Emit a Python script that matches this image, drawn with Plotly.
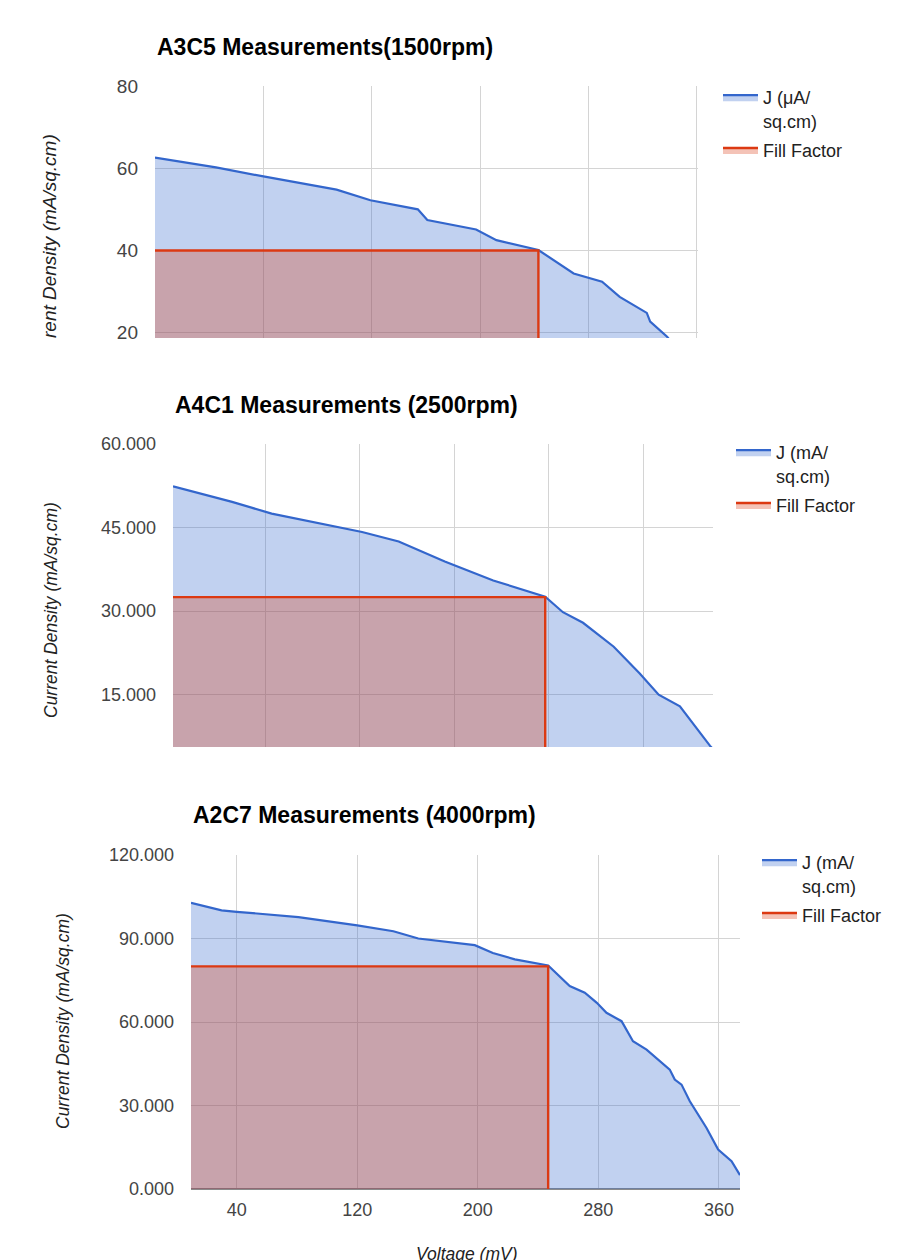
import plotly.graph_objects as go

# ---------------- data ----------------
# Panel 1: A3C5 (1500rpm)
V1 = [0, 45, 80, 134, 159, 194, 201, 237, 252, 283, 309, 330, 343, 363, 365.5, 378, 383]
J1 = [62.6, 60.2, 58.0, 54.8, 52.2, 50.0, 47.4, 45.1, 42.5, 40.1, 34.4, 32.4, 28.7, 24.8, 22.7, 19.0, 17.0]
VMP1, JMP1 = 283, 40.0

# Panel 2: A4C1 (2500rpm)
V2 = [2, 52, 85.5, 162, 193, 232, 273, 317, 332, 349, 375, 397, 413, 431, 456.5, 460]
J2 = [52.4, 49.6, 47.5, 44.2, 42.5, 38.9, 35.5, 32.6, 29.8, 27.9, 23.6, 18.8, 15.0, 12.9, 5.8, 5.0]
VMP2, JMP2 = 317, 32.5

# Panel 3: A2C7 (4000rpm)
V3 = [9.7, 30, 40, 81, 120, 144, 160.5, 191.4, 198, 210, 224.6, 246.7, 261, 271, 279, 285.4,
      295.4, 303, 312, 327.4, 330.7, 335.2, 340.7, 351.8, 359.5, 368.4, 374]
J3 = [102.8, 100.1, 99.6, 97.7, 94.7, 92.6, 90.0, 88.2, 87.6, 84.8, 82.5, 80.3, 72.9, 70.5, 66.9, 63.3,
      60.3, 53.1, 50.1, 42.9, 39.3, 37.5, 31.5, 21.9, 14.2, 10.0, 5.0]
VMP3, JMP3 = 246.7, 80.0

TITLES = ["A3C5 Measurements(1500rpm)", "A4C1 Measurements (2500rpm)", "A2C7 Measurements (4000rpm)"]
J_NAMES = ["J (μA/<br>sq.cm)", "J (mA/<br>sq.cm)", "J (mA/<br>sq.cm)"]
FF_NAME = "Fill Factor"
Y_TITLE = "Current Density (mA/sq.cm)"
Y_TITLE_CLIPPED = "rent Density (mA/sq.cm)"
X_TITLE = "Voltage (mV)"
X_TICKS = [40, 120, 200, 280, 360]

# ---------------- layout geometry (pixels) ----------------
W, H = 898, 1260
BLUE = "#3366cc"
RED = "#dc3912"
GRID = "#d4d4d4"
FONT = "Liberation Sans, Arial, sans-serif"

def px_x(p):
    return p / W

def px_y(p):
    return 1 - p / H

panels = [
    dict(V=V1, J=J1, vmp=VMP1, jmp=JMP1, xdom=(155, 698), ydom=(86, 338), xr=[0, 400.8], xt0=0,
         yr=[18.7, 80], dy=20, yfmt="d", title_xy=(155, 47), leg=(718, 79), tsize=19),
    dict(V=V2, J=J2, vmp=VMP2, jmp=JMP2, xdom=(173, 713), ydom=(444, 747), xr=[2, 459], xt0=0,
         yr=[5.6, 60], dy=15, yfmt=".3f", title_xy=(173, 405), leg=(731, 434), tsize=18),
    dict(V=V3, J=J3, vmp=VMP3, jmp=JMP3, xdom=(191, 740), ydom=(855, 1189), xr=[9.7, 374], xt0=40,
         yr=[0, 120], dy=30, yfmt=".3f", title_xy=(191, 815), leg=(757, 844), tsize=18),
]

fig = go.Figure()
layout = dict(width=W, height=H, margin=dict(l=0, r=0, t=0, b=0, pad=0, autoexpand=False),
              paper_bgcolor="white", plot_bgcolor="white",
              font=dict(family=FONT, color="#222"), annotations=[])

for i, p in enumerate(panels):
    k = "" if i == 0 else str(i + 1)
    xa, ya = "x" + k, "y" + k
    leg = "legend" + k
    fig.add_trace(go.Scatter(
        x=p["V"], y=p["J"], mode="lines", name=J_NAMES[i],
        line=dict(color=BLUE, width=2.2), fill="tozeroy", fillcolor="rgba(51,102,204,0.3)",
        xaxis=xa, yaxis=ya, legend=leg, legendgroup=f"j{i}", hoverinfo="skip"))
    fig.add_trace(go.Scatter(
        x=[p["V"][0], p["vmp"], p["vmp"]], y=[p["jmp"], p["jmp"], 0], mode="lines", name=FF_NAME,
        line=dict(color=RED, width=2.4), fill="tozeroy", fillcolor="rgba(220,57,18,0.3)",
        xaxis=xa, yaxis=ya, legend=leg, legendgroup=f"ff{i}", hoverinfo="skip"))

    last = i == 2
    layout["xaxis" + k] = dict(
        domain=[px_x(p["xdom"][0]), px_x(p["xdom"][1])], range=p["xr"], anchor=ya,
        tickmode="array" if last else "linear",
        tickvals=X_TICKS if last else None,
        tick0=p["xt0"], dtick=80,
        showticklabels=last, showgrid=True, gridcolor=GRID, gridwidth=1.2,
        zeroline=False, showline=False, ticks="", automargin=False,
        tickfont=dict(size=18, color="#444"), ticklabelstandoff=8, fixedrange=True)
    layout["yaxis" + k] = dict(
        domain=[px_y(p["ydom"][1]), px_y(p["ydom"][0])], range=p["yr"], anchor=xa,
        tick0=0, dtick=p["dy"], tickformat=p["yfmt"],
        showgrid=True, gridcolor=GRID, gridwidth=1.2,
        zeroline=last, zerolinecolor="#8a8a8a", zerolinewidth=1.6, automargin=False,
        showline=False, ticks="", tickfont=dict(size=p["tsize"], color="#444"),
        ticklabelstandoff=16, fixedrange=True)
    layout[leg] = dict(
        x=px_x(p["leg"][0]), y=px_y(p["leg"][1]), xanchor="left", yanchor="top",
        font=dict(size=18, color="#222", family=FONT), valign="top",
        bgcolor="rgba(0,0,0,0)", itemwidth=35, traceorder="grouped", tracegroupgap=3)
    layout["annotations"].append(dict(
        text="<b>" + TITLES[i] + "</b>", xref="paper", yref="paper",
        x=px_x(p["title_xy"][0]), y=px_y(p["title_xy"][1]), xanchor="left", yanchor="middle",
        showarrow=False, font=dict(size=23, color="#000", family=FONT)))

# y-axis titles
layout["annotations"].append(dict(
    text="<i>" + Y_TITLE_CLIPPED + "</i>", xref="paper", yref="paper", x=px_x(50), y=px_y(132),
    xanchor="center", yanchor="top", textangle=-90, showarrow=False,
    font=dict(size=19, color="#222")))
layout["annotations"].append(dict(
    text="<i>" + Y_TITLE + "</i>", xref="paper", yref="paper", x=px_x(51), y=px_y(610),
    xanchor="center", yanchor="middle", textangle=-90, showarrow=False,
    font=dict(size=17.5, color="#222")))
layout["annotations"].append(dict(
    text="<i>" + Y_TITLE + "</i>", xref="paper", yref="paper", x=px_x(63), y=px_y(1021),
    xanchor="center", yanchor="middle", textangle=-90, showarrow=False,
    font=dict(size=17.5, color="#222")))
# x-axis title (near the bottom edge, as in the reference)
layout["annotations"].append(dict(
    text="<i>" + X_TITLE + "</i>", xref="paper", yref="paper", x=px_x(466), y=px_y(1242),
    xanchor="center", yanchor="top", showarrow=False,
    font=dict(size=17.5, color="#222")))

fig.update_layout(**layout)

POST = """
(function(){
  var de = document.documentElement, b = document.body;
  de.style.margin = '0'; b.style.margin = '0';
  de.style.overflow = 'hidden'; b.style.overflow = 'hidden';
})();
"""

fig.write_html("out.html", config={"displayModeBar": False}, post_script=POST)
